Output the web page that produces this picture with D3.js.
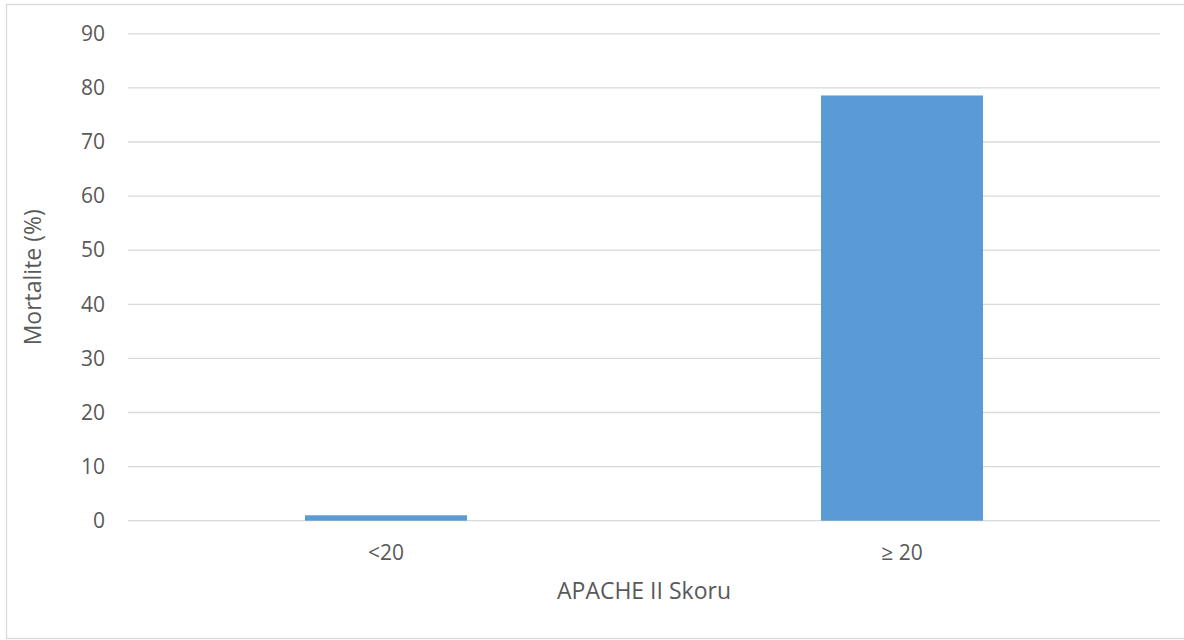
<!DOCTYPE html>
<html><head><meta charset="utf-8">
<script src="https://cdn.jsdelivr.net/npm/d3@7"></script>
<style>
html,body{margin:0;padding:0;background:#fff;}
text{font-family:"Open Sans",sans-serif;fill:#595959;}
</style></head>
<body>
<svg id="chart" width="1184" height="640"></svg>
<script>
const categories = ["<20", "\u2265 20"];
const mortality = [1.0, 78.6];
const yTicks = [0, 10, 20, 30, 40, 50, 60, 70, 80, 90];
const xTitle = "APACHE II Skoru";
const yTitle = "Mortalite (%)";

const svg = d3.select("#chart");
const W = 1184, H = 640;
const m = {left: 128, right: 24, top: 33.8, bottom: 119.3};

// outer chart border
svg.append("rect").attr("x", 6.5).attr("y", 4.5).attr("width", 1190).attr("height", 634)
  .attr("fill", "#fff").attr("stroke", "#D9D9D9").attr("stroke-width", 1.3);

const x = d3.scaleBand().domain(categories).range([m.left, W - m.right]).paddingInner(0.686).paddingOuter(0.343);
const y = d3.scaleLinear().domain([0, 90]).range([H - m.bottom, m.top]);

// gridlines
svg.append("g").selectAll("line").data(yTicks).join("line")
  .attr("x1", m.left).attr("x2", W - m.right)
  .attr("y1", d => y(d)).attr("y2", d => y(d))
  .attr("stroke", "#D9D9D9").attr("stroke-width", 1.3);

// y axis labels
const yAxis = d3.axisLeft(y).tickValues(yTicks).tickSize(0).tickPadding(23);
const gy = svg.append("g").attr("transform", `translate(${m.left},0)`).call(yAxis);
gy.select(".domain").remove();
gy.selectAll("text").style("font-family", '"Open Sans",sans-serif').style("font-size", "21px").attr("fill", "#595959");

// bars
svg.append("g").selectAll("rect").data(mortality).join("rect")
  .attr("x", (d, i) => x(categories[i]))
  .attr("width", x.bandwidth())
  .attr("y", d => y(d))
  .attr("height", d => y(0) - y(d))
  .attr("fill", "#5B9BD5");

// x axis labels
const xAxis = d3.axisBottom(x).tickSize(0).tickPadding(24.4);
const gx = svg.append("g").attr("transform", `translate(0,${y(0)})`).call(xAxis);
gx.select(".domain").remove();
gx.selectAll("text").style("font-family", '"Open Sans",sans-serif').style("font-size", "21px").attr("fill", "#595959");

// titles
svg.append("text").attr("x", (m.left + W - m.right) / 2).attr("y", 599)
  .attr("text-anchor", "middle").style("font-size", "23px").text(xTitle);
svg.append("text").attr("transform", `translate(41,${(m.top + H - m.bottom) / 2}) rotate(-90)`)
  .attr("text-anchor", "middle").style("font-size", "23px").text(yTitle);
</script>
</body></html>
